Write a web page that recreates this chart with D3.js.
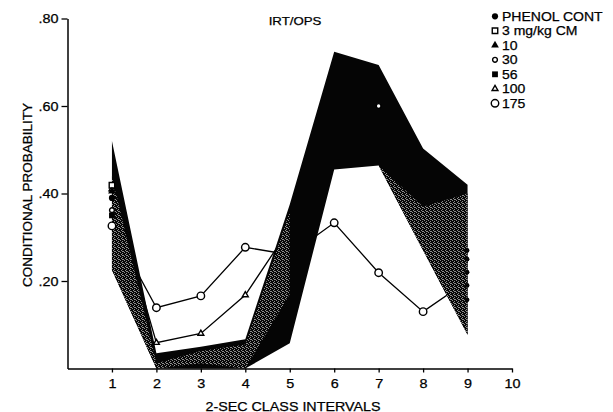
<!DOCTYPE html>
<html><head><meta charset="utf-8">
<script src="https://cdn.jsdelivr.net/npm/d3@7"></script>
<style>
body{margin:0;background:#fff}
text{font-family:"Liberation Sans",Arial,Helvetica,sans-serif;fill:#000;stroke:#000;stroke-width:0.25px}
</style></head>
<body><svg id="c" width="613" height="412"></svg>
<script>
// ---------- data ----------
const intervals = [1, 2, 3, 4, 5, 6, 7, 8, 9];
const xTicks = [1, 2, 3, 4, 5, 6, 7, 8, 9, 10];
const yTicks = [0.2, 0.4, 0.6, 0.8];
const yTickLabels = [".20", ".40", ".60", ".80"];
const chartTitle = "IRT/OPS";
const xTitle = "2-SEC CLASS INTERVALS";
const yTitle = "CONDITIONAL PROBABILITY";
const legendNames = ["PHENOL CONT", "3 mg/kg CM", "10", "30", "56", "100", "175"];

// envelope (shaded band) of the low-dose curves: PHENOL CONT, 3, 10, 30, 56
const lowDoseUpper = [0.52, 0.035, 0.05, 0.067, 0.375, 0.724, 0.694, 0.503, 0.42];
const lowDoseLower = [0.225, 0.0, 0.0, 0.0, 0.058, 0.455, 0.464, 0.27, 0.077];
// lighter (stippled) part of the band
const stippleUpper = [0.44, 0.012, 0.04, 0.055, 0.36, null, 0.464, 0.37, 0.40];
const stippleLower = [0.225, 0.0, 0.012, 0.0, 0.17, null, 0.464, 0.27, 0.077];
// low-dose points visible on the band edges (PHENOL CONT, 3, 10, 30, 56)
const lowDoseAt1 = [0.39, 0.419, 0.405, 0.362, 0.35];
const lowDoseAt9 = [0.25, 0.19, 0.27, 0.22, 0.157];
const thirtyAt7 = 0.60;

const dose100 = [0.41, 0.059, 0.080, 0.168, 0.32, 0.56, 0.58, 0.38, 0.24];
const dose175 = [0.326, 0.139, 0.166, 0.277, 0.26, 0.333, 0.219, 0.130, 0.20];

// ---------- drawing ----------
const svg = d3.select("#c");
const defs = svg.append("defs");
const pat = defs.append("pattern").attr("id", "stip").attr("width", 4).attr("height", 4)
  .attr("patternUnits", "userSpaceOnUse");
pat.append("rect").attr("width", 4).attr("height", 4).attr("fill", "#060606");
[[0,0],[2,1],[1,2],[3,3],[2,3]].forEach(p => pat.append("rect").attr("x", p[0]).attr("y", p[1])
  .attr("width", 1).attr("height", 1).attr("fill", "#8c8c8c"));

const x = d3.scaleLinear().domain([0, 10]).range([67.5, 512]);
const y = d3.scaleLinear().domain([0, 0.8]).range([368.5, 18.5]);

const symStyles = {
  "PHENOL CONT": {type: d3.symbolCircle, size: 30, fill: "#000", stroke: "none"},
  "3 mg/kg CM": {type: d3.symbolSquare, size: 30, fill: "#fff", stroke: "#000"},
  "10": {type: d3.symbolTriangle, size: 26, fill: "#000", stroke: "none"},
  "30": {type: d3.symbolCircle, size: 18, fill: "#fff", stroke: "#000"},
  "56": {type: d3.symbolSquare, size: 34, fill: "#000", stroke: "none"},
  "100": {type: d3.symbolTriangle, size: 15, fill: "#fff", stroke: "#000"},
  "175": {type: d3.symbolCircle, size: 44, fill: "#fff", stroke: "#000"}
};
function marker(g, name, cx, cy, forceFill) {
  const s = symStyles[name];
  const type = forceFill ? d3.symbolCircle : s.type;
  const size = forceFill ? 18 : s.size;
  g.append("path").attr("d", d3.symbol().type(type).size(size)())
    .attr("transform", `translate(${cx},${cy})`)
    .attr("fill", forceFill || s.fill)
    .attr("stroke", forceFill ? "none" : s.stroke)
    .attr("stroke-width", 1.4);
}
function stretch(sel, sx) {
  sel.each(function () {
    const L = this.getComputedTextLength();
    this.setAttribute("textLength", L * sx);
    this.setAttribute("lengthAdjust", "spacingAndGlyphs");
  });
}

const line = d3.line().x((d, i) => x(intervals[i])).y(d => y(d));
const plot = svg.append("g");
[dose100, dose175].forEach(s => {
  plot.append("path").attr("d", line(s)).attr("fill", "none")
    .attr("stroke", "#000").attr("stroke-width", 1.3);
});

// band
const band = d3.area().x((d, i) => x(intervals[i]))
  .y0((d, i) => y(lowDoseLower[i])).y1(d => y(d));
plot.append("path").attr("d", band(lowDoseUpper)).attr("fill", "#050505");
const sband = d3.area().defined(d => d != null).x((d, i) => x(intervals[i]))
  .y0((d, i) => y(stippleLower[i])).y1(d => y(d));
plot.append("path").attr("d", sband(stippleUpper)).attr("fill", "url(#stip)");

// markers for the two high doses: visible where outside the band or on its left edge
const mk = svg.append("g");
[["100", dose100], ["175", dose175]].forEach(([name, s]) => {
  s.forEach((v, i) => {
    const outside = v > lowDoseUpper[i] || v < lowDoseLower[i];
    if (outside || i === 0) marker(mk, name, x(intervals[i]), y(v));
  });
});
legendNames.slice(0, 5).forEach((name, k) => {
  marker(mk, name, x(1), y(lowDoseAt1[k]));
  marker(mk, name, x(9) - 0.5, y(lowDoseAt9[k]), "#050505");
});
marker(mk, "30", x(7), y(thirtyAt7));

// axes
const yAxis = d3.axisLeft(y).tickValues(yTicks).tickFormat((d, i) => yTickLabels[i])
  .tickSize(6).tickSizeOuter(0).tickPadding(3);
const gy = svg.append("g").attr("transform", `translate(${x(0)},0)`).call(yAxis);
const xAxis = d3.axisBottom(x).tickValues(xTicks).tickFormat(d3.format("d"))
  .tickSize(4).tickSizeOuter(0).tickPadding(7);
const gx = svg.append("g").attr("transform", `translate(0,${y(0)})`).call(xAxis);
[gx, gy].forEach(g => {
  g.select(".domain").attr("stroke", "#000").attr("stroke-width", 1.5);
  g.selectAll(".tick line").attr("stroke", "#000").attr("stroke-width", 1.3);
  g.selectAll(".tick text").attr("font-size", 12.5).attr("fill", "#000")
    .attr("font-family", "Liberation Sans, Arial, sans-serif");
});
stretch(gx.selectAll(".tick text"), 1.15);
stretch(gy.selectAll(".tick text"), 1.15);

// titles
const t = svg.append("text").attr("x", 295).attr("y", 25).attr("text-anchor", "middle")
  .attr("font-size", 11.5).text(chartTitle);
stretch(t, 1.15);
const xt = svg.append("text").attr("x", 293).attr("y", 410.5).attr("text-anchor", "middle")
  .attr("font-size", 13).text(xTitle);
stretch(xt, 1.1);
svg.append("text").attr("transform", "translate(31.5,195) rotate(-90)")
  .attr("text-anchor", "middle").attr("font-size", 13.5).text(yTitle);

// legend
const lg = svg.append("g");
legendNames.forEach((name, i) => {
  const by = 20.8 + i * 14.5;
  marker(lg, name, 495, by - 4.5);
  const tx = lg.append("text").attr("x", 502).attr("y", by).attr("font-size", 12.5).text(name);
  stretch(tx, 1.12);
});
</script></body></html>
